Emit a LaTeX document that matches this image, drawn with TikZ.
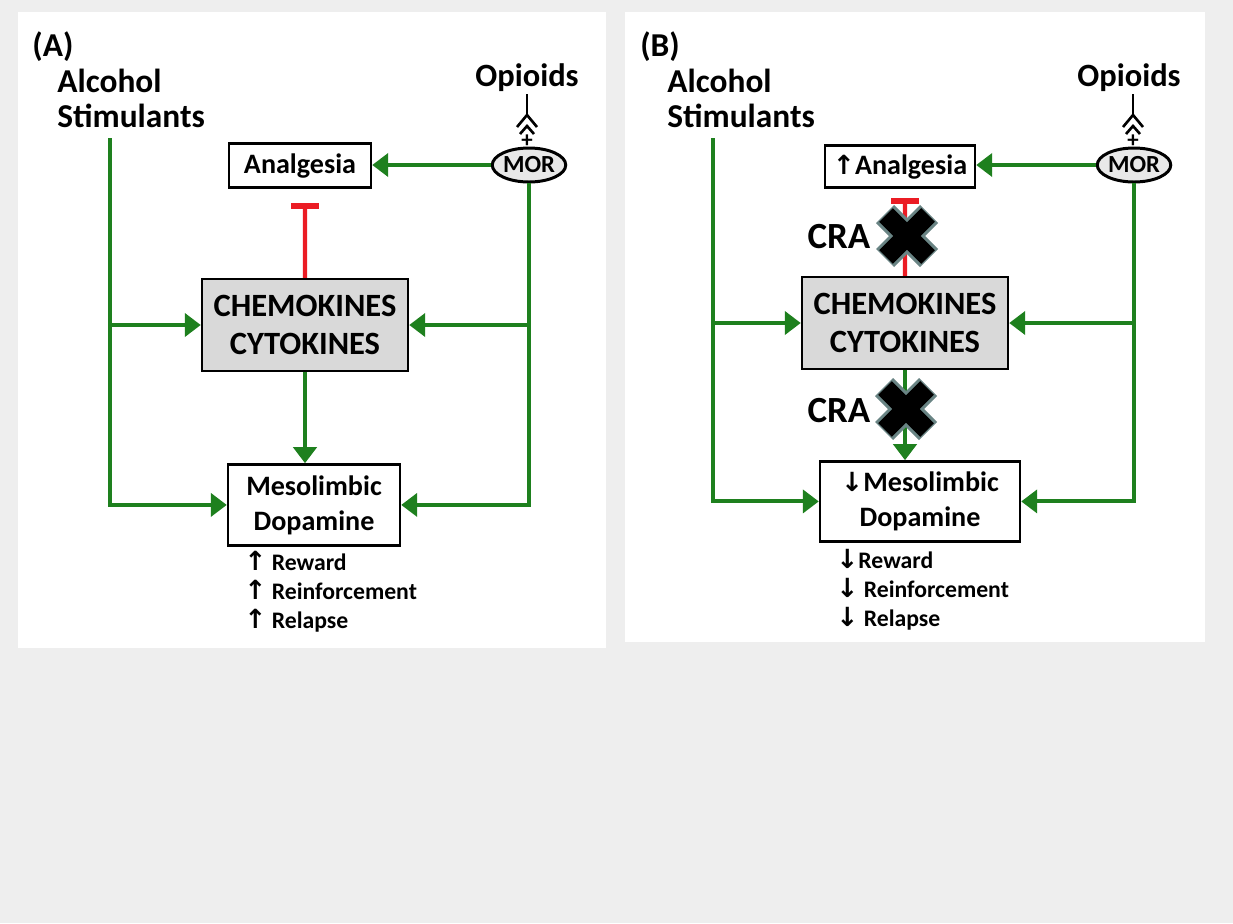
\documentclass[tikz,border=0pt]{standalone}
\usepackage{fontspec}
\setmainfont{Carlito}
\newfontfamily\arrowfont{DejaVu Sans}
\usetikzlibrary{positioning}
\usetikzlibrary{calc}
\usetikzlibrary{arrows.meta}
\usetikzlibrary{shapes.geometric}

\definecolor{PathGreen}{RGB}{30,128,30}
\definecolor{InhibRed}{RGB}{235,28,36}
\definecolor{BoxGray}{RGB}{217,217,217}
\definecolor{PageGray}{RGB}{238,238,238}
\definecolor{CrossRim}{RGB}{105,132,132}

\newcommand{\upar}{{\arrowfont\bfseries\fontsize{15}{16}\selectfont ↑}}
\newcommand{\dnar}{{\arrowfont\bfseries\fontsize{15}{16}\selectfont ↓}}

\tikzset{
	panellabel/.style={font=\bfseries\fontsize{19}{21}\selectfont, inner sep=0},
	drugtext/.style={anchor=north west, align=left, inner sep=0,
		font=\bfseries\fontsize{19}{20}\selectfont},
	opioidtext/.style={inner sep=0, font=\bfseries\fontsize{18.5}{20}\selectfont},
	morshape/.style={ellipse, draw, line width=1.7pt, fill=BoxGray!60,
		minimum width=1.46cm, minimum height=0.68cm, inner sep=0,
		font=\bfseries\fontsize{14}{16}\selectfont},
	cytobox/.style={draw, line width=1.4pt, fill=BoxGray, align=center,
		minimum width=4.12cm, minimum height=1.84cm,
		font=\bfseries\fontsize{18.5}{21.5}\selectfont},
	effectbox/.style={draw, line width=1.4pt, fill=white, align=center,
		inner sep=2pt, font=\bfseries\fontsize{16}{20}\selectfont},
	outcometext/.style={anchor=north west, align=left, inner sep=0,
		font=\bfseries\fontsize{13.5}{16.4}\selectfont},
	cratext/.style={inner sep=0, font=\bfseries\fontsize{21}{23}\selectfont},
	grarrow/.style={draw=PathGreen, line width=2.3pt,
		-{Triangle[length=3.2mm, width=4.6mm]}},
	inhib/.style={draw=InhibRed, line width=2.3pt,
		-{Bar[width=5.6mm, line width=3.2pt]}},
	receptor/.pic={
		\draw[line width=1.5pt] (0,0) -- (0,21) coordinate (-fork);
		\draw[line width=1.5pt] (-10,33) -- (0,21) -- (10,33);
		\draw[line width=1.5pt] (-7,40) -- (0,32) -- (7,40);
		\node[inner sep=0, font=\bfseries\fontsize{13}{14}\selectfont] (-plus) at (0,47) {+};
	},
	cramark/.pic={
		\draw[CrossRim, line width=14.5pt] (-22,-22) -- (22,22) (-22,22) -- (22,-22);
		\draw[black, line width=11pt] (-21,-21) -- (21,21) (-21,21) -- (21,-21);
	}
}

\begin{document}
\begin{tikzpicture}[x=0.02cm, y=-0.02cm]
\fill[PageGray] (0,0) rectangle (1233,923);
\fill[white] (18,12) rectangle (606,648);
\fill[white] (625,12) rectangle (1205,642);
\useasboundingbox (0,0) rectangle (1233,923);

% --- panel A

\node[panellabel] (labA) at (53,47) {(A)};
\node[drugtext] (drugsA) at (57,69) {Alcohol\\Stimulants};
\node[opioidtext] (opA) at (527,78) {Opioids};
\pic (recA) at (527,94) {receptor};
\node[morshape] (morA) at (529,165) {MOR};

\node[cytobox] (chemA) at (305,325) {CHEMOKINES\\CYTOKINES};
\node[effectbox, minimum width=2.84cm, minimum height=0.88cm,
	above=1.78cm of chemA, xshift=-0.1cm] (analgA) {Analgesia};
\node[effectbox, minimum width=3.44cm, minimum height=1.62cm,
	below=1.82cm of chemA, xshift=0.18cm] (mesoA) {Mesolimbic\\Dopamine};
\node[outcometext] (outA) at (244,551)
	{\upar\ Reward\\\upar\ Reinforcement\\\upar\ Relapse};

\coordinate (stimA) at (110,138);
\coordinate (barA) at ($(chemA.north)!0.84!(chemA.north |- analgA.south)$);

\draw[grarrow] (morA.west) -- (morA.west -| analgA.east);
\draw[inhib] (chemA.north) -- (barA);
\draw[grarrow] (chemA.south) -- (chemA.south |- mesoA.north);

\draw[grarrow] (stimA) |- (mesoA.west);
\draw[grarrow] (stimA |- chemA.west) -- (chemA.west);

\draw[grarrow] (morA.south) |- (mesoA.east);
\draw[grarrow] (morA.south |- chemA.east) -- (chemA.east);

% --- panel B

\node[panellabel] (labB) at (660,47) {(B)};
\node[drugtext] (drugsB) at (667,69) {Alcohol\\Stimulants};
\node[opioidtext] (opB) at (1129,78) {Opioids};
\pic (recB) at (1133,94) {receptor};
\node[morshape] (morB) at (1134,165) {MOR};

\node[cytobox] (chemB) at (905,323) {CHEMOKINES\\CYTOKINES};
\node[effectbox, minimum width=3.0cm, minimum height=0.84cm,
	above=1.74cm of chemB, xshift=-0.1cm] (analgB) {\upar Analgesia};
\node[effectbox, minimum width=4.0cm, minimum height=1.6cm,
	below=1.8cm of chemB, xshift=0.3cm] (mesoB) {\dnar Mesolimbic\\Dopamine};
\node[outcometext] (outB) at (836,549)
	{\dnar Reward\\\dnar\ Reinforcement\\\dnar\ Relapse};

\coordinate (stimB) at (713,138);
\coordinate (barB) at ($(chemB.north)!0.89!(chemB.north |- analgB.south)$);

\draw[grarrow] (morB.west) -- (morB.west -| analgB.east);
\draw[inhib] (chemB.north) -- (barB);
\draw[grarrow] (chemB.south) -- (chemB.south |- mesoB.north);

\draw[grarrow] (stimB) |- (mesoB.west);
\draw[grarrow] (stimB |- chemB.west) -- (chemB.west);

\draw[grarrow] (morB.south) |- (mesoB.east);
\draw[grarrow] (morB.south |- chemB.east) -- (chemB.east);

% --- antagonist marks

\pic at (907,236) {cramark};
\node[cratext] (craB1) at (839,237) {CRA};
\pic at (906,409) {cramark};
\node[cratext] (craB2) at (839,411) {CRA};

\end{tikzpicture}
\end{document}
